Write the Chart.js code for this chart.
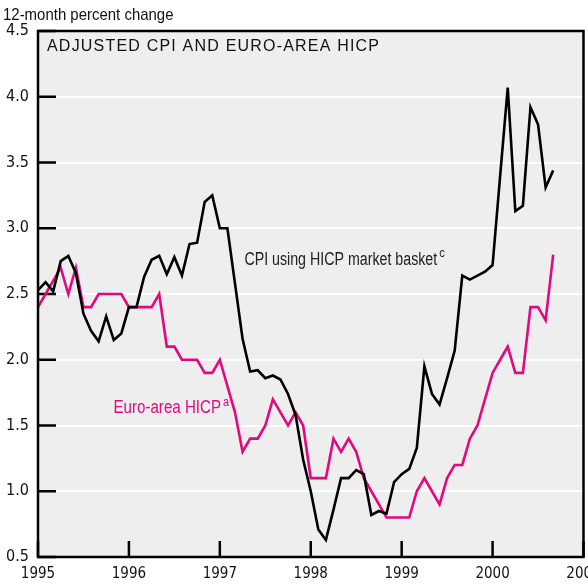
<!DOCTYPE html>
<html>
<head>
<meta charset="utf-8">
<script src="https://cdn.jsdelivr.net/npm/chart.js@4/dist/chart.umd.min.js"></script>
<style>
  html, body { margin: 0; padding: 0; background: #fff; overflow: hidden; }
  #wrap { width: 600px; height: 586px; }
</style>
</head>
<body>
<div id="wrap"><canvas id="chart" width="600" height="586"></canvas></div>
<script>
// monthly values, Jan 1995 - Sep 2000
const startYear = 1995;
const cpiHicpBasket = [
  2.53, 2.59, 2.52, 2.75, 2.79, 2.66, 2.35, 2.22, 2.14, 2.33, 2.15, 2.20,
  2.40, 2.40, 2.63, 2.76, 2.79, 2.65, 2.78, 2.64, 2.88, 2.89, 3.20, 3.25,
  3.00, 3.00, 2.58, 2.16, 1.91, 1.92, 1.86, 1.88, 1.85, 1.74, 1.58, 1.24,
  1.00, 0.71, 0.63, 0.86, 1.10, 1.10, 1.16, 1.13, 0.82, 0.85, 0.83, 1.07,
  1.13, 1.17, 1.33, 1.95, 1.74, 1.66, 1.86, 2.07, 2.64, 2.61, 2.64, 2.67,
  2.72, 3.40, 4.07, 3.13, 3.17, 3.92, 3.79, 3.31, 3.44
];
const euroHicp = [
  2.4, 2.5, 2.6, 2.7, 2.5, 2.7, 2.4, 2.4, 2.5, 2.5, 2.5, 2.5,
  2.4, 2.4, 2.4, 2.4, 2.5, 2.1, 2.1, 2.0, 2.0, 2.0, 1.9, 1.9,
  2.0, 1.8, 1.6, 1.3, 1.4, 1.4, 1.5, 1.7, 1.6, 1.5, 1.6, 1.5,
  1.1, 1.1, 1.1, 1.4, 1.3, 1.4, 1.3, 1.1, 1.0, 0.9, 0.8, 0.8,
  0.8, 0.8, 1.0, 1.1, 1.0, 0.9, 1.1, 1.2, 1.2, 1.4, 1.5, 1.7,
  1.9, 2.0, 2.1, 1.9, 1.9, 2.4, 2.4, 2.3, 2.8
];
const yearTicks = [1995, 1996, 1997, 1998, 1999, 2000, 2001];
const valueTicks = [0.5, 1.0, 1.5, 2.0, 2.5, 3.0, 3.5, 4.0, 4.5];

const toPoints = (arr) => arr.map((v, i) => ({ x: startYear + i / 12, y: v }));

const PINK = '#e4087f';
const narrow = '"DejaVu Sans Condensed", sans-serif';
const regular = '"Liberation Sans", Arial, sans-serif';

// condensed-looking label: regular face squeezed horizontally
const squeezed = (ctx, text, x, y, size, sx) => {
  ctx.save();
  ctx.translate(x, y);
  ctx.scale(sx, 1);
  ctx.font = size + 'px ' + regular;
  ctx.fillText(text, 0, 0);
  const w = ctx.measureText(text).width * sx;
  ctx.restore();
  return w;
};

// background, inner ticks, frame and text
const decor = {
  id: 'decor',
  beforeDraw(chart) {
    const { ctx, chartArea: a } = chart;
    ctx.save();
    ctx.fillStyle = '#fff';
    ctx.fillRect(0, 0, chart.width, chart.height);
    ctx.fillStyle = '#eeeeee';
    ctx.fillRect(a.left, a.top, a.right - a.left, a.bottom - a.top);
    ctx.restore();
  },
  beforeDatasetsDraw(chart) {
    const { ctx, chartArea: a, scales } = chart;
    ctx.save();
    ctx.strokeStyle = '#000';
    ctx.lineWidth = 2.5;
    ctx.beginPath();
    valueTicks.forEach(v => {
      const y = scales.y.getPixelForValue(v);
      ctx.moveTo(a.left, y);
      ctx.lineTo(a.left + 18, y);
    });
    yearTicks.forEach(v => {
      const x = scales.x.getPixelForValue(v);
      ctx.moveTo(x, a.bottom);
      ctx.lineTo(x, a.bottom - 16);
    });
    ctx.stroke();
    ctx.restore();
  },
  afterDatasetsDraw(chart) {
    const { ctx, chartArea: a, scales } = chart;
    ctx.save();
    ctx.strokeStyle = '#000';
    ctx.lineWidth = 2.5;
    ctx.strokeRect(a.left, a.top, a.right - a.left, a.bottom - a.top);

    ctx.textBaseline = 'middle';
    ctx.fillStyle = '#111';
    squeezed(ctx, '12-month percent change', 3, 15, 17, 0.88);

    ctx.font = '16px ' + regular;
    if ('letterSpacing' in ctx) ctx.letterSpacing = '1.2px';
    ctx.fillText('ADJUSTED CPI AND EURO-AREA HICP', a.left + 9, a.top + 16);
    if ('letterSpacing' in ctx) ctx.letterSpacing = '0px';

    // series labels
    let x = scales.x.getPixelForValue(1997.27);
    let y = scales.y.getPixelForValue(2.76);
    ctx.fillStyle = '#222';
    let w = squeezed(ctx, 'CPI using HICP market basket', x, y, 18, 0.79);
    squeezed(ctx, 'c', x + w + 2, y - 6, 13, 0.85);

    x = scales.x.getPixelForValue(1995.83);
    y = scales.y.getPixelForValue(1.63);
    ctx.fillStyle = PINK;
    w = squeezed(ctx, 'Euro-area HICP', x, y, 18, 0.84);
    squeezed(ctx, 'a', x + w + 2, y - 6, 13, 0.85);
    ctx.restore();
  }
};

new Chart(document.getElementById('chart'), {
  type: 'line',
  data: {
    datasets: [
      {
        label: 'CPI using HICP market basket',
        data: toPoints(cpiHicpBasket),
        borderColor: '#000',
        borderWidth: 2.6,
        pointRadius: 0,
        tension: 0
      },
      {
        label: 'Euro-area HICP',
        data: toPoints(euroHicp),
        borderColor: PINK,
        borderWidth: 2.6,
        pointRadius: 0,
        tension: 0
      }
    ]
  },
  options: {
    responsive: false,
    animation: false,
    devicePixelRatio: 1,
    layout: { padding: { top: 31, right: 16.5, left: 0, bottom: 0 } },
    plugins: { legend: { display: false }, tooltip: { enabled: false } },
    scales: {
      x: {
        type: 'linear',
        min: 1995,
        max: 2001,
        afterBuildTicks: (scale) => { scale.ticks = yearTicks.map(v => ({ value: v })); },
        afterFit: (scale) => { scale.height = 29; scale.paddingLeft = 0; scale.paddingRight = 0; },
        grid: { display: false, drawTicks: false },
        border: { display: false },
        ticks: {
          padding: 8,
          color: '#111',
          font: { family: narrow, size: 15 },
          maxRotation: 0,
          autoSkip: false,
          callback: (v) => String(v)
        }
      },
      y: {
        min: 0.5,
        max: 4.5,
        afterBuildTicks: (scale) => { scale.ticks = valueTicks.map(v => ({ value: v })); },
        afterFit: (scale) => { scale.width = 38; },
        grid: { color: '#fff', lineWidth: 2, drawTicks: false },
        border: { display: false },
        ticks: {
          padding: 9,
          color: '#111',
          font: { family: narrow, size: 16 },
          callback: (v) => v.toFixed(1)
        }
      }
    }
  },
  plugins: [decor]
});
</script>
</body>
</html>
